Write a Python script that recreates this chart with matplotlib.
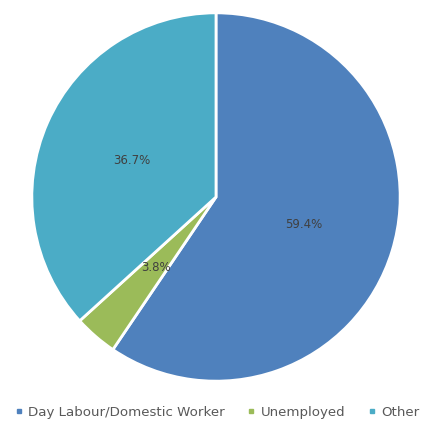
import matplotlib
matplotlib.use("Agg")
import matplotlib.pyplot as plt
from matplotlib.lines import Line2D

labels = ["Day Labour/Domestic Worker", "Unemployed", "Other"]
shares = [59.4, 3.8, 36.7]
pct_text = ["59.4%", "3.8%", "36.7%"]
colors = ["#4f81bd", "#9bbb59", "#4bacc6"]

fig = plt.figure(figsize=(4.34, 4.27), dpi=100)
ax = fig.add_axes([30/434, 43/427, 372/434, 372/427])

wedges, texts = ax.pie(shares, colors=colors, startangle=90, counterclock=False,
                       labels=pct_text, labeldistance=0.5,
                       wedgeprops=dict(edgecolor="white", linewidth=2),
                       textprops=dict(color="#404040", fontsize=8.5, ha="center", va="center"))
ax.set_xlim(-1.01, 1.01)
ax.set_ylim(-1.01, 1.01)
ax.set_aspect("equal")
ax.axis("off")

# small round markers like the original legend
handles = [Line2D([], [], marker="s", linestyle="none", markersize=3.5,
                  markerfacecolor=c, markeredgecolor=c) for c in colors]
fig.legend(handles, labels, loc="center", bbox_to_anchor=(0.5, 14/427), ncol=3,
           frameon=False, fontsize=9.6, handlelength=0.6,
           handletextpad=0.4, columnspacing=1.7, labelcolor="#595959")

fig.savefig("out.png", dpi=100)
